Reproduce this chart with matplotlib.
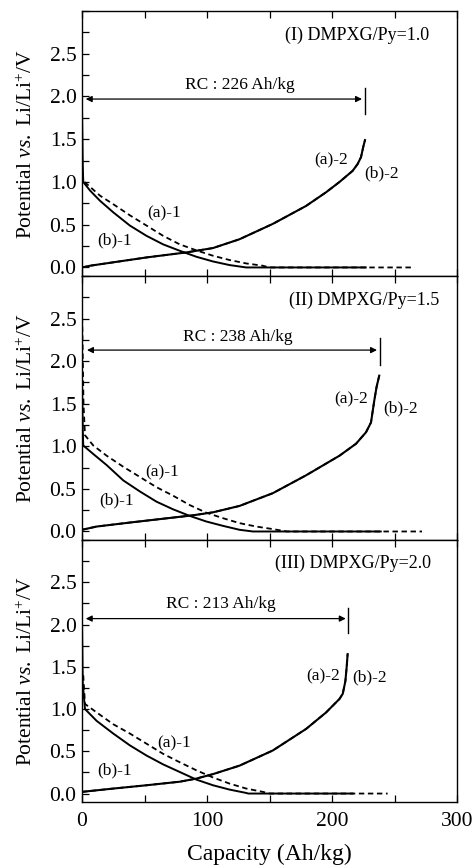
import matplotlib
matplotlib.use("Agg")
import matplotlib.pyplot as plt
from matplotlib.ticker import MultipleLocator, FuncFormatter

plt.rcParams['font.family'] = ['Liberation Serif', 'DejaVu Serif']
plt.rcParams['mathtext.fontset'] = 'custom'
plt.rcParams['mathtext.rm'] = 'Liberation Serif'
plt.rcParams['mathtext.it'] = 'Liberation Serif:italic'

# ---- Panel (I) DMPXG/Py = 1.0 ----
p1_dis_b_x = [0, 0.6, 1, 6.4, 14.4, 25, 38.3, 51.6, 64.9, 78.2, 91.5, 104.8, 118, 131.4, 227]
p1_dis_b_y = [1.86, 1.2, 1.0, 0.90, 0.78, 0.645, 0.49, 0.37, 0.27, 0.195, 0.125, 0.07, 0.028, 0.0, 0.0]
p1_dis_a_x = [2, 14.4, 25, 38.3, 51.6, 64.9, 78.2, 91.5, 104.8, 118, 131.4, 144.7, 150, 266]
p1_dis_a_y = [1.0, 0.84, 0.74, 0.61, 0.49, 0.37, 0.27, 0.20, 0.137, 0.087, 0.047, 0.02, 0.0, 0.0]
p1_chg_x = [0, 6.4, 25, 51.6, 83.5, 104.8, 126, 152.7, 179.3, 195.3, 206, 216.5, 220.5, 223.2, 225, 226.4]
p1_chg_y = [0.0, 0.02, 0.06, 0.117, 0.176, 0.227, 0.33, 0.51, 0.72, 0.88, 1.0, 1.13, 1.21, 1.29, 1.41, 1.49]
p1_rc = 226

# ---- Panel (II) DMPXG/Py = 1.5 ----
p2_dis_b_x = [0, 0.6, 1, 9, 19.7, 33, 46.3, 59.6, 72.9, 86.2, 99.5, 112.8, 126, 136.7, 239]
p2_dis_b_y = [1.77, 1.2, 1.01, 0.91, 0.78, 0.60, 0.47, 0.35, 0.26, 0.183, 0.117, 0.066, 0.02, 0.0, 0.0]
p2_dis_a_x = [0, 1.2, 2.4, 9, 19.7, 33, 46.3, 59.6, 72.9, 86.2, 99.5, 112.8, 126, 139.4, 152.7, 164, 272]
p2_dis_a_y = [2.62, 1.5, 1.13, 1.01, 0.89, 0.76, 0.64, 0.52, 0.42, 0.31, 0.22, 0.156, 0.098, 0.058, 0.028, 0.0, 0.0]
p2_chg_x = [0, 11.7, 38.3, 65, 88.8, 104.8, 126, 152.7, 179.3, 206, 219.2, 227.2, 231.2, 233.8, 235.7, 237.8]
p2_chg_y = [0.02, 0.058, 0.105, 0.15, 0.19, 0.225, 0.30, 0.45, 0.66, 0.89, 1.03, 1.165, 1.28, 1.535, 1.70, 1.83]
p2_rc = 238

# ---- Panel (III) DMPXG/Py = 2.0 ----
p3_dis_b_x = [0, 0.6, 2.4, 11.7, 25, 38.3, 51.6, 64.9, 78.2, 91.5, 104.8, 118, 131.4, 133, 216.5]
p3_dis_b_y = [2.04, 1.3, 1.0, 0.86, 0.71, 0.57, 0.45, 0.345, 0.255, 0.165, 0.098, 0.047, 0.007, 0.0, 0.0]
p3_dis_a_x = [1, 2.4, 11.7, 25, 38.3, 51.6, 64.9, 78.2, 91.5, 104.8, 118, 131.4, 144.7, 150, 244.5]
p3_dis_a_y = [1.4, 1.06, 0.96, 0.82, 0.71, 0.59, 0.47, 0.37, 0.275, 0.19, 0.118, 0.059, 0.02, 0.0, 0.0]
p3_chg_x = [0, 25, 51.6, 78.2, 91.5, 104.8, 126, 152.7, 179.3, 195.3, 206, 208.6, 210.7, 211.7, 212.5]
p3_chg_y = [0.02, 0.059, 0.098, 0.14, 0.177, 0.23, 0.33, 0.51, 0.765, 0.96, 1.12, 1.18, 1.33, 1.49, 1.65]
p3_rc = 213

panel_titles = ["(I) DMPXG/Py=1.0", "(II) DMPXG/Py=1.5", "(III) DMPXG/Py=2.0"]
curve_labels = ["(a)-1", "(b)-1", "(a)-2", "(b)-2"]
y_ticks = [0.0, 0.5, 1.0, 1.5, 2.0, 2.5]

panels = [
    dict(bx=p1_dis_b_x, by=p1_dis_b_y, ax_=p1_dis_a_x, ay=p1_dis_a_y,
         cx=p1_chg_x, cy=p1_chg_y, rc=p1_rc, arrow_y=1.97, arrow_x0=3,
         bar=(1.80, 2.10), rc_text=(126, 2.14), title_x=278,
         lab_pos=[(66, 0.63), (26, 0.32), (199, 1.25), (240, 1.10)]),
    dict(bx=p2_dis_b_x, by=p2_dis_b_y, ax_=p2_dis_a_x, ay=p2_dis_a_y,
         cx=p2_chg_x, cy=p2_chg_y, rc=p2_rc, arrow_y=2.13, arrow_x0=4,
         bar=(1.96, 2.27), rc_text=(125, 2.28), title_x=286,
         lab_pos=[(64, 0.69), (28, 0.37), (215, 1.55), (255, 1.44)]),
    dict(bx=p3_dis_b_x, by=p3_dis_b_y, ax_=p3_dis_a_x, ay=p3_dis_a_y,
         cx=p3_chg_x, cy=p3_chg_y, rc=p3_rc, arrow_y=2.07, arrow_x0=3,
         bar=(1.90, 2.20), rc_text=(111, 2.24), title_x=279,
         lab_pos=[(74, 0.59), (26, 0.27), (193, 1.39), (230, 1.37)]),
]

W, H = 475, 868
fig = plt.figure(figsize=(W / 100, H / 100), dpi=100)

left, right = 82 / W, 457 / W
tops = [11, 276, 540]
bottoms = [276, 540, 802]

for i, p in enumerate(panels):
    ax = fig.add_axes([left, 1 - bottoms[i] / H, right - left, (bottoms[i] - tops[i]) / H])
    ax.plot(p['bx'], p['by'], color='black', lw=1.4, ls='-')
    ax.plot(p['ax_'], p['ay'], color='black', lw=1.3, ls=(0, (3, 2)))
    ax.plot(p['cx'], p['cy'], color='black', lw=1.5, ls='-')
    ax.plot(p['cx'], p['cy'], color='black', lw=1.3, ls=(0, (3, 2)))

    ax.set_xlim(0, 300)
    ax.set_ylim(-0.1, 3.0)
    ax.xaxis.set_major_locator(MultipleLocator(100))
    ax.xaxis.set_minor_locator(MultipleLocator(50))
    ax.set_yticks(y_ticks)
    ax.yaxis.set_minor_locator(MultipleLocator(0.25))
    ax.yaxis.set_major_formatter(FuncFormatter(lambda v, _: f"{v:.1f}"))
    ax.tick_params(which='both', direction='in', top=True, bottom=True,
                   left=True, right=False, length=5, width=0.9, labelsize=15.5)
    ax.tick_params(axis='y', which='major', pad=4)
    if i < 2:
        ax.tick_params(labelbottom=False)
    else:
        ax.tick_params(axis='x', pad=7)
    for s in ax.spines.values():
        s.set_linewidth(1.0)

    ax.set_ylabel(r"Potential $\it{vs.}$ Li/Li$^{+}$/V", fontsize=15.5, labelpad=9)

    # reversible capacity arrow
    ax.annotate("", xy=(p['rc'] - 2, p['arrow_y']), xytext=(p['arrow_x0'], p['arrow_y']),
                arrowprops=dict(arrowstyle='<|-|>', color='black', lw=0.9,
                                mutation_scale=9, shrinkA=0, shrinkB=0))
    ax.plot([p['rc'], p['rc']], list(p['bar']), color='black', lw=1.0)
    ax.text(p['rc_text'][0], p['rc_text'][1], f"RC : {p['rc']} Ah/kg",
            ha='center', va='center', fontsize=12.5)

    ax.text(p['title_x'], 2.72, panel_titles[i], ha='right', va='center', fontsize=13)
    for lab, (lx, ly) in zip(curve_labels, p['lab_pos']):
        ax.text(lx, ly, lab, ha='center', va='center', fontsize=12.5)

fig.text((82 + 457) / 2 / W, 3 / H, "Capacity (Ah/kg)", ha='center', va='bottom', fontsize=17)

fig.savefig("out.png", dpi=100)
